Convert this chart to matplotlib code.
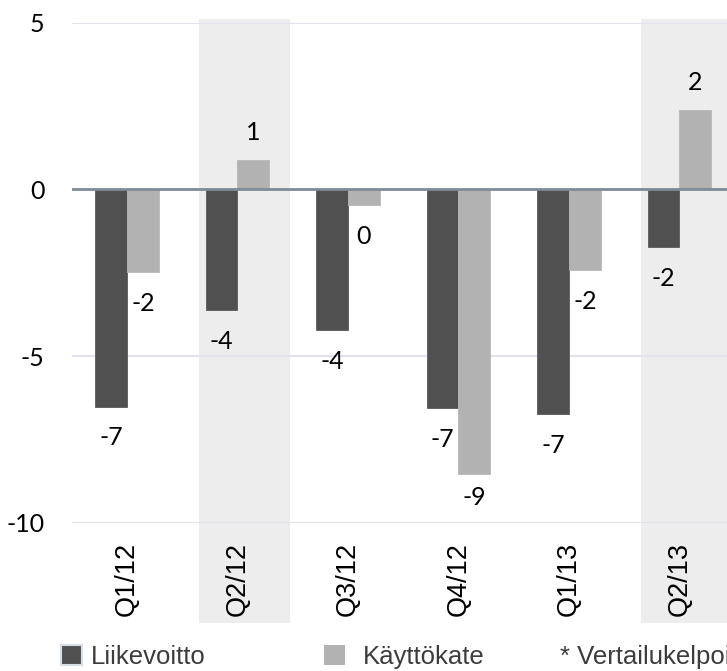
import matplotlib
matplotlib.use("Agg")
import matplotlib.pyplot as plt
from matplotlib.patches import Patch, Rectangle
import numpy as np

categories = ["Q1/12", "Q2/12", "Q3/12", "Q4/12", "Q1/13", "Q2/13"]
liikevoitto = [-6.52, -3.62, -4.22, -6.57, -6.74, -1.73]
kayttokate = [-2.48, 0.89, -0.47, -8.53, -2.43, 2.39]
highlighted = ["Q2/12", "Q2/13"]
series_names = ["Liikevoitto", "Käyttökate"]
footnote = "* Vertailukelpoinen"
yticks = [5, 0, -5, -10]

DARK = "#505050"
LIGHT = "#b2b2b2"
BAND = "#ededed"
GRID = "#e2e2ec"
ZERO = "#7f8b97"
NUM_FONT = "Lato"
TXT_FONT = "Liberation Sans"
FS = 18.5
NFS = 18

fig = plt.figure(figsize=(7.27, 6.71), dpi=100)
ax = fig.add_axes([71.75 / 727, (671 - 522.7) / 671, 663 / 727, 500 / 671])

x = np.arange(len(categories))
w = 0.288

for i, c in enumerate(categories):
    if c in highlighted:
        ax.add_patch(Rectangle((i - 0.35, -13.0), 0.824, 18.1, facecolor=BAND,
                               edgecolor="none", zorder=0, clip_on=False))

ax.set_xlim(-0.5, len(categories) - 0.5)
ax.set_ylim(-10, 5)
for yv in yticks:
    if yv != 0:
        ax.axhline(yv, color=GRID, lw=1.5, zorder=1)

ax.bar(x - w / 2, liikevoitto, w, color=DARK, zorder=2, edgecolor="#5a5a5a", lw=0.6)
ax.bar(x + w / 2, kayttokate, w, color=LIGHT, zorder=2, edgecolor="#b8b8b8", lw=0.6)
ax.axhline(0, color=ZERO, lw=2, zorder=3)

nudge = {(1, 3): 24}
for s, (vals, offs) in enumerate([(liikevoitto, -w / 2), (kayttokate, w / 2)]):
    for i, v in enumerate(vals):
        d = nudge.get((s, i), 31 if v < 0 else 27)
        dy = d if v >= 0 else -d
        ax.annotate(str(int(round(v))), xy=(i + offs, v), xytext=(0, dy),
                    textcoords="offset pixels", ha="center", va="center",
                    fontsize=NFS, family=NUM_FONT, color="black", zorder=4)

for sp in ax.spines.values():
    sp.set_visible(False)
ax.tick_params(axis="both", length=0)
ax.tick_params(axis="y", pad=19.5)
ax.tick_params(axis="x", pad=14)
ax.set_xticks(x)
ax.set_xticklabels(categories, rotation=90, fontsize=19.5, family=TXT_FONT, color="black")
ax.set_yticks(yticks)
ax.set_yticklabels([str(t) for t in yticks], fontsize=NFS, family=NUM_FONT, color="black")

ycen = 1 - 657 / 671
h1 = [Patch(facecolor=DARK, edgecolor="#d8dee6", lw=1.5, label=series_names[0])]
h2 = [Patch(facecolor=LIGHT, edgecolor="none", lw=0, label=series_names[1])]
common = dict(frameon=False, handlelength=0.8, handleheight=0.8, borderpad=0,
              borderaxespad=0, prop={"family": TXT_FONT, "size": FS})
leg1 = fig.legend(handles=h1, loc="center left", bbox_to_anchor=(61 / 727, ycen),
                  handletextpad=0.35, **common)
leg2 = fig.legend(handles=h2, loc="center left", bbox_to_anchor=(324 / 727, ycen),
                  handletextpad=0.7, **common)
for lg in (leg1, leg2):
    for t in lg.get_texts():
        t.set_color("#3c3c3c")
fig.text(560 / 727, ycen, footnote, ha="left", va="center",
         fontsize=FS, family=TXT_FONT, color="#3c3c3c")

fig.savefig("out.png", dpi=100)
